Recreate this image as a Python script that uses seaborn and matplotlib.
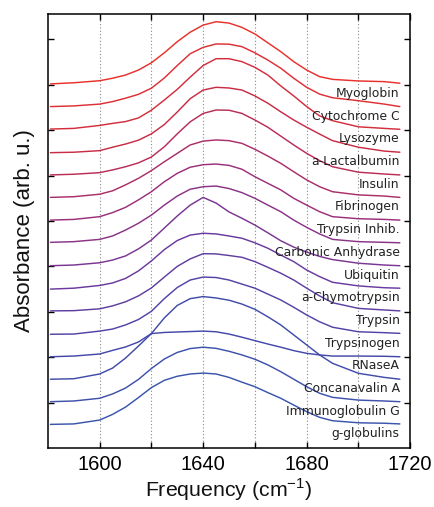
import pandas as pd
import matplotlib
matplotlib.use("Agg")
import matplotlib.pyplot as plt
import seaborn as sns

# Frequencies (cm^-1) where the spectra were read
freqs = [1581, 1590, 1600, 1605, 1610, 1615, 1620, 1625, 1630, 1635, 1640, 1645,
         1650, 1655, 1660, 1665, 1670, 1675, 1680, 1685, 1690, 1700, 1710, 1716]

# Amide I absorbance (arb. u.), bottom trace first
g_globulins = [0.04, 0.06, 0.23, 0.48, 0.80, 1.22, 1.66, 1.98, 2.16, 2.26, 2.30, 2.26,
               2.11, 1.90, 1.70, 1.44, 1.19, 0.89, 0.60, 0.35, 0.20, 0.11, 0.09, 0.06]
immunoglobulin_g = [0.04, 0.07, 0.19, 0.38, 0.64, 1.02, 1.50, 1.92, 2.21, 2.38, 2.44, 2.39,
                    2.26, 2.10, 1.91, 1.66, 1.36, 1.03, 0.70, 0.41, 0.23, 0.11, 0.07, 0.04]
concanavalin_a = [0.03, 0.05, 0.26, 0.52, 0.96, 1.49, 2.04, 2.73, 3.28, 3.58, 3.67, 3.61,
                  3.51, 3.34, 3.11, 2.78, 2.42, 1.98, 1.54, 1.10, 0.73, 0.29, 0.11, 0.03]
rnase_a = [0.02, 0.05, 0.14, 0.30, 0.45, 0.67, 1.04, 1.09, 1.11, 1.13, 1.15, 1.12,
           1.02, 0.88, 0.73, 0.58, 0.44, 0.29, 0.17, 0.10, 0.05, 0.05, 0.04, 0.02]
trypsinogen = [0.01, 0.02, 0.15, 0.24, 0.42, 0.66, 1.02, 1.58, 2.07, 2.40, 2.53, 2.51,
               2.40, 2.22, 2.04, 1.78, 1.52, 1.20, 0.86, 0.56, 0.32, 0.12, 0.08, 0.05]
trypsin = [0.04, 0.05, 0.13, 0.26, 0.44, 0.70, 1.05, 1.53, 2.00, 2.33, 2.56, 2.55,
           2.48, 2.40, 2.21, 1.96, 1.70, 1.40, 1.04, 0.70, 0.40, 0.15, 0.08, 0.04]
chymotrypsin = [0.00, 0.04, 0.16, 0.27, 0.47, 0.80, 1.24, 1.74, 2.14, 2.38, 2.46, 2.43,
                2.34, 2.24, 2.04, 1.80, 1.50, 1.21, 0.84, 0.55, 0.30, 0.14, 0.06, 0.04]
ubiquitin = [0.03, 0.06, 0.16, 0.28, 0.46, 0.77, 1.16, 1.69, 2.22, 2.70, 3.04, 2.79,
             2.40, 2.12, 1.82, 1.48, 1.13, 0.85, 0.63, 0.44, 0.30, 0.14, 0.06, 0.03]
carbonic_anhydrase = [0.06, 0.09, 0.19, 0.34, 0.60, 0.90, 1.26, 1.70, 2.10, 2.40, 2.51, 2.54,
                      2.43, 2.25, 2.00, 1.70, 1.41, 1.04, 0.72, 0.43, 0.19, 0.09, 0.06, 0.04]
trypsin_inhib = [0.04, 0.07, 0.19, 0.37, 0.60, 0.93, 1.29, 1.73, 2.10, 2.37, 2.48, 2.51,
                 2.45, 2.28, 1.95, 1.66, 1.37, 1.00, 0.70, 0.41, 0.19, 0.10, 0.07, 0.04]
fibrinogen = [0.04, 0.07, 0.18, 0.33, 0.59, 0.88, 1.22, 1.61, 1.98, 2.35, 2.52, 2.57,
              2.54, 2.42, 2.16, 1.86, 1.54, 1.17, 0.81, 0.51, 0.29, 0.15, 0.10, 0.04]
insulin = [0.03, 0.06, 0.13, 0.25, 0.39, 0.56, 0.82, 1.27, 1.84, 2.37, 2.74, 2.89,
           2.88, 2.74, 2.45, 2.13, 1.74, 1.35, 0.98, 0.66, 0.39, 0.15, 0.07, 0.03]
lactalbumin = [0.01, 0.03, 0.10, 0.25, 0.39, 0.56, 0.84, 1.25, 1.80, 2.39, 2.77, 2.89,
               2.86, 2.77, 2.51, 2.19, 1.81, 1.45, 1.13, 0.83, 0.54, 0.25, 0.08, 0.03]
lysozyme = [0.05, 0.08, 0.21, 0.30, 0.38, 0.54, 0.88, 1.33, 1.80, 2.34, 2.85, 3.15,
            3.15, 3.02, 2.77, 2.43, 1.95, 1.51, 1.04, 0.63, 0.42, 0.15, 0.08, 0.04]
cytochrome_c = [0.04, 0.07, 0.15, 0.26, 0.41, 0.58, 0.85, 1.30, 1.85, 2.37, 2.65, 2.80,
                2.79, 2.68, 2.41, 2.09, 1.73, 1.29, 0.89, 0.59, 0.43, 0.30, 0.15, 0.04]
myoglobin = [0.04, 0.09, 0.18, 0.29, 0.43, 0.65, 0.97, 1.41, 1.90, 2.32, 2.63, 2.78,
             2.72, 2.53, 2.24, 1.85, 1.46, 1.02, 0.65, 0.36, 0.24, 0.17, 0.14, 0.07]

proteins = ["g-globulins", "Immunoglobulin G", "Concanavalin A", "RNaseA", "Trypsinogen",
            "Trypsin", "a-Chymotrypsin", "Ubiquitin", "Carbonic Anhydrase", "Trypsin Inhib.",
            "Fibrinogen", "Insulin", "a-Lactalbumin", "Lysozyme", "Cytochrome C", "Myoglobin"]
spectra = [g_globulins, immunoglobulin_g, concanavalin_a, rnase_a, trypsinogen, trypsin,
           chymotrypsin, ubiquitin, carbonic_anhydrase, trypsin_inhib, fibrinogen, insulin,
           lactalbumin, lysozyme, cytochrome_c, myoglobin]

# long table, each trace shifted up by one unit
rows = []
for i, (name, spec) in enumerate(zip(proteins, spectra)):
    for f, a in zip(freqs, spec):
        rows.append({"protein": name, "freq": f, "absorb": a + i + 1})
df = pd.DataFrame(rows)

sns.set_style("ticks")
plt.rcParams["font.family"] = ["Liberation Sans", "DejaVu Sans"]

palette = sns.blend_palette(["#3a55ab", "#4549aa", "#6a3a9e", "#9a2f7a", "#c92c45", "#e8312c"], len(proteins))

fig = plt.figure(figsize=(4.35, 5.07), dpi=100)
ax = fig.add_axes([0.110, 0.1164, 0.833, 0.856])

for x in range(1600, 1720, 20):
    ax.axvline(x, color="#888888", linestyle=(0, (1, 2)), linewidth=0.8, zorder=0)

sns.lineplot(data=df, x="freq", y="absorb", hue="protein", hue_order=proteins,
             palette=palette, estimator=None, linewidth=1.05, legend=False, ax=ax)

for i, name in enumerate(proteins):
    ax.text(1716, i + 1 - 0.38, name, ha="right", va="center", fontsize=8.9,
            family="DejaVu Sans", color="#222222")

ax.set_xlim(1580, 1720)
ax.set_ylim(0, 19.12)
ax.set_xticks(range(1600, 1721, 20))
ax.set_xticklabels(["1600", "", "1640", "", "1680", "", "1720"])
ax.set_yticks(range(2, 19, 2))
ax.set_yticklabels([])
ax.tick_params(direction="in", length=4, width=1.0, top=True, right=True,
               labelsize=14.5, colors="black", pad=5)
for s in ax.spines.values():
    s.set_linewidth(1.1)
    s.set_color("black")

ax.set_xlabel("Frequency (cm$^{\\mathregular{-1}}$)", fontsize=15.3, labelpad=2, color="#111111")
ax.set_ylabel("Absorbance (arb. u.)", fontsize=16, labelpad=4, color="#111111")

fig.savefig("out.png", dpi=100)
